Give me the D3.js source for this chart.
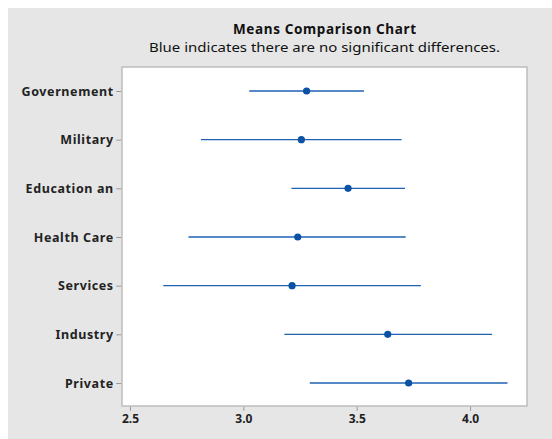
<!DOCTYPE html>
<html><head><meta charset="utf-8">
<script src="https://cdn.jsdelivr.net/npm/d3@7"></script>
<style>body{margin:0;background:#fff;} svg{display:block;}</style>
</head><body>
<svg id="c" width="552" height="439"></svg>
<script>
const categories = ["Governement","Military","Education an","Health Care","Services","Industry","Private"];
const means = [3.279, 3.256, 3.462, 3.240, 3.215, 3.637, 3.729];
const lower = [3.026, 2.813, 3.212, 2.758, 2.647, 3.181, 3.293];
const upper = [3.532, 3.698, 3.713, 3.716, 3.783, 4.097, 4.165];
const xTicks = [2.5, 3.0, 3.5, 4.0];
const title = "Means Comparison Chart";
const subtitle = "Blue indicates there are no significant differences.";

const svg = d3.select("#c");
const W = 552, H = 439;
const m = {left:122, right:527, top:67, bottom:406};
svg.append("rect").attr("x",8).attr("y",8).attr("width",W-8).attr("height",H-8).attr("fill","#e6e6e6");
svg.append("rect").attr("x",m.left).attr("y",m.top).attr("width",m.right-m.left).attr("height",m.bottom-m.top)
  .attr("fill","#fff").attr("stroke","#bdbdbd").attr("stroke-width",1.5);

const x = d3.scaleLinear().domain([2.465, 4.251]).range([m.left, m.right]);
const y = d3.scalePoint().domain(categories).range([91, 383]);

const font = "'Noto Sans', 'Open Sans', sans-serif";
svg.append("text").attr("x",(m.left+m.right)/2).attr("y",34).attr("text-anchor","middle")
  .attr("font-family",font).attr("font-weight","bold").attr("font-size",13.5).attr("fill","#111")
  .attr("textLength",183).attr("lengthAdjust","spacing").text(title);
svg.append("text").attr("x",(m.left+m.right)/2).attr("y",52).attr("text-anchor","middle")
  .attr("font-family",font).attr("font-size",13).attr("fill","#111")
  .attr("textLength",351).attr("lengthAdjust","spacingAndGlyphs").text(subtitle);

const xAxis = svg.append("g").attr("transform",`translate(0,${m.bottom+0.75})`)
  .call(d3.axisBottom(x).tickValues(xTicks).tickFormat(d3.format(".1f")).tickSize(4).tickPadding(4));
xAxis.select(".domain").remove();
xAxis.selectAll("line").attr("stroke","#999");
xAxis.selectAll("text").attr("font-family",font).attr("font-size",12).attr("font-weight","bold").attr("fill","#222");

const yAxis = svg.append("g").attr("transform",`translate(${m.left-0.75},0)`)
  .call(d3.axisLeft(y).tickSize(5).tickPadding(2.5));
yAxis.select(".domain").remove();
yAxis.selectAll("line").attr("stroke","#999");
yAxis.selectAll("text").attr("font-family",font).attr("font-size",12.5).attr("font-weight","bold")
  .attr("letter-spacing","0.6px").attr("fill","#222");

const g = svg.append("g");
g.selectAll("line.ci").data(categories).join("line").attr("class","ci")
  .attr("x1",(d,i)=>x(lower[i])).attr("x2",(d,i)=>x(upper[i]))
  .attr("y1",d=>y(d)).attr("y2",d=>y(d))
  .attr("stroke","#1f62b3").attr("stroke-width",1.3);
g.selectAll("circle").data(categories).join("circle")
  .attr("cx",(d,i)=>x(means[i])).attr("cy",d=>y(d)).attr("r",3.6).attr("fill","#0a52a3");
</script>
</body></html>
